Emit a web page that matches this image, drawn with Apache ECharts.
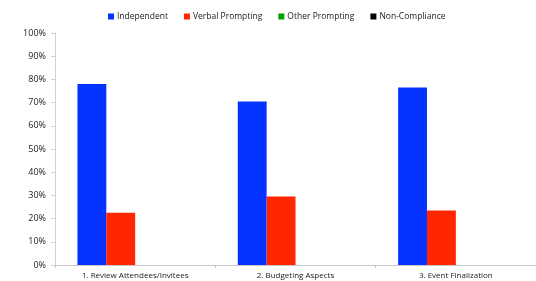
<!DOCTYPE html>
<html>
<head>
<meta charset="utf-8">
<script src="https://cdn.jsdelivr.net/npm/echarts@6/dist/echarts.min.js"></script>
<style>
  html, body { margin: 0; padding: 0; background: #fff; }
  #chart { width: 536px; height: 281px; }
</style>
</head>
<body>
<div id="chart"></div>
<script>
const categories = ['1. Review Attendees/Invitees', '2. Budgeting Aspects', '3. Event Finalization']
const seriesNames = ['Independent', 'Verbal Prompting', 'Other Prompting', 'Non-Compliance']
const independent = [78, 70.5, 76.5]
const verbalPrompting = [22.5, 29.5, 23.5]
const otherPrompting = [0, 0, 0]
const nonCompliance = [0, 0, 0]
const colors = ['#0433ff', '#ff2600', '#00a000', '#000000']

const chart = echarts.init(document.getElementById('chart'))

const values = [independent, verbalPrompting, otherPrompting, nonCompliance]

chart.setOption({
  animation: false,
  textStyle: { fontFamily: 'Open Sans, sans-serif' },
  legend: {
    top: 7,
    left: 103,
    itemWidth: 6,
    itemHeight: 6,
    itemGap: 16,
    icon: 'rect',
    textStyle: { fontSize: 8.5, color: '#222', padding: [0, 0, 0, -2] },
    data: seriesNames,
  },
  grid: { left: 55, right: 0, top: 33, bottom: 16 },
  xAxis: {
    type: 'category',
    data: categories,
    axisLine: { lineStyle: { color: '#c8c8c8' } },
    axisTick: { show: true, length: 3, lineStyle: { color: '#c8c8c8' } },
    axisLabel: { fontSize: 8, color: '#222', margin: 7 },
  },
  yAxis: {
    type: 'value',
    min: 0,
    max: 100,
    interval: 10,
    axisLine: { show: true, lineStyle: { color: '#d0d0d0' } },
    axisTick: { show: true, length: 4, lineStyle: { color: '#d0d0d0' } },
    splitLine: { show: false },
    axisLabel: { fontSize: 9, color: '#222', margin: 9, formatter: '{value}%' },
  },
  series: seriesNames.map((name, i) => ({
    name,
    type: 'bar',
    data: values[i],
    barGap: '0%',
    barCategoryGap: '28%',
    itemStyle: { color: colors[i] },
  })),
})
</script>
</body>
</html>
